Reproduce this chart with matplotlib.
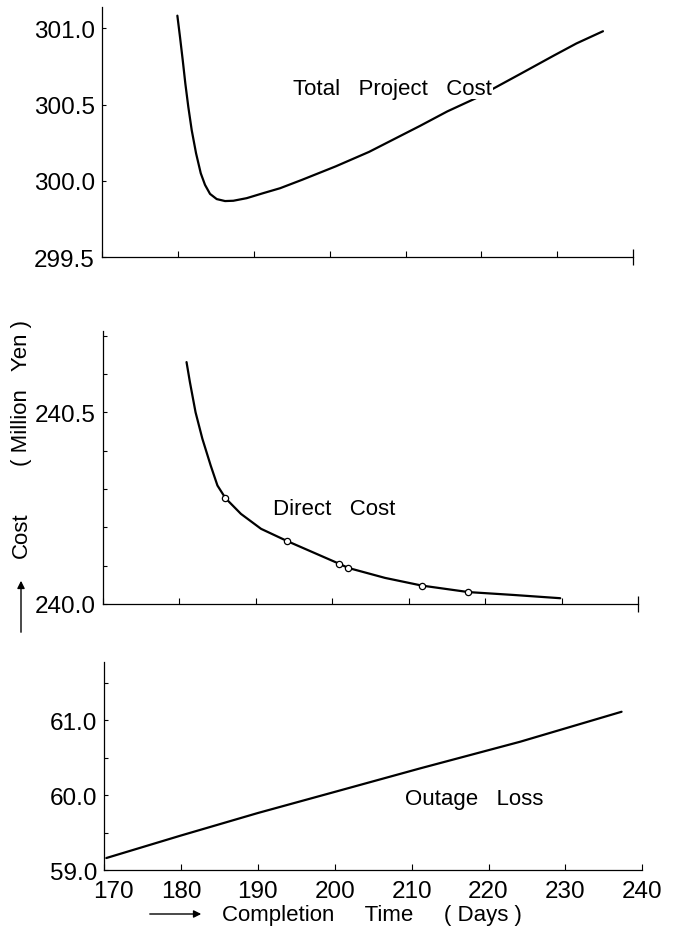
import matplotlib
matplotlib.use('Agg')  # headless
import matplotlib.pyplot as plt
import matplotlib.transforms as mtransforms
from matplotlib.ticker import FixedLocator, MultipleLocator

# --- data ---
x_ticks = [170, 180, 190, 200, 210, 220, 230, 240]

# total project cost (million yen)
total_days = [179.96, 180.31, 180.67, 181.01, 181.40, 181.85, 182.42, 183.04, 183.60,
              184.26, 185.14, 186.24, 187.33, 189.09, 191.28, 193.48, 196.37, 200.8,
              205.2, 211.9, 215.5, 219.2, 221.4, 225.1, 229.5, 232.5, 236.0]
total_cost = [301.082, 300.941, 300.789, 300.637, 300.485, 300.332, 300.181, 300.050,
              299.974, 299.915, 299.881, 299.868, 299.870, 299.887, 299.920, 299.952,
              300.007, 300.095, 300.19, 300.36, 300.455, 300.54, 300.60, 300.70,
              300.82, 300.90, 300.98]
total_yticks = [299.5, 300.0, 300.5, 301.0]

# direct cost
direct_days = [180.96, 181.4, 182.14, 183.03, 184.12, 185.0, 186.05, 188.07, 190.7,
               194.12, 195.96, 200.9, 202.1, 206.9, 211.7, 217.8, 223.7, 229.8]
direct_cost = [240.631, 240.579, 240.50, 240.431, 240.361, 240.309, 240.276, 240.235,
               240.196, 240.164, 240.148, 240.105, 240.094, 240.068, 240.048, 240.031,
               240.0235, 240.015]
# computed solutions (open circles)
point_days = [186.05, 194.12, 200.9, 202.1, 211.7, 217.8]
point_cost = [240.276, 240.164, 240.105, 240.094, 240.048, 240.031]
direct_yticks = [240.0, 240.5]

# outage loss
outage_days = [170.3, 180.0, 190.0, 200.3, 211.1, 224.1, 237.3]
outage_loss = [59.16, 59.46, 59.76, 60.05, 60.355, 60.71, 61.11]
outage_yticks = [59.0, 60.0, 61.0]

plt.rcParams['font.family'] = ['Liberation Sans', 'DejaVu Sans']
TICK_FS = 17.5
TEXT_FS = 16

fig = plt.figure(figsize=(6.75, 9.29), dpi=100)
ax_top = fig.add_axes([0.1507, 0.7220, 0.7876, 0.2691])
ax_mid = fig.add_axes([0.1521, 0.3488, 0.7935, 0.2942])
ax_bot = fig.add_axes([0.1541, 0.0624, 0.7975, 0.2239])


def style(ax, yticks, ylim, minor_step=None, end_mark=True):
    for s in ('top', 'right'):
        ax.spines[s].set_visible(False)
    for s in ('left', 'bottom'):
        ax.spines[s].set_linewidth(0.9)
    ax.set_xlim(170, 240)
    ax.set_ylim(*ylim)
    ax.set_yticks(yticks)
    ax.set_yticklabels([f'{v:.1f}' for v in yticks])
    if minor_step:
        ax.yaxis.set_minor_locator(MultipleLocator(minor_step))
    ax.tick_params(axis='both', which='both', direction='in', width=0.8,
                   labelsize=TICK_FS)
    ax.tick_params(axis='y', which='both', length=3, pad=5)
    if end_mark:
        ax.set_xticks(x_ticks[:-1])
        ax.xaxis.set_minor_locator(FixedLocator(x_ticks[-1:]))
        ax.tick_params(axis='x', which='major', length=4)
        ax.tick_params(axis='x', which='minor', direction='inout', length=12, width=0.9)
        ax.tick_params(axis='x', labelbottom=False)
    else:
        ax.set_xticks(x_ticks)
        ax.tick_params(axis='x', length=4, pad=7)


style(ax_top, total_yticks, (299.5, 301.137))
style(ax_mid, direct_yticks, (240.0, 240.713), minor_step=0.1)
style(ax_bot, outage_yticks, (59.0, 61.773), minor_step=0.5, end_mark=False)

# first x label sits to the right of the corner
lbl = ax_bot.get_xticklabels()[0]
lbl.set_transform(lbl.get_transform() + mtransforms.ScaledTranslation(0.09, 0, fig.dpi_scale_trans))

# curves
line_kw = dict(color='black', lw=1.6, solid_joinstyle='round', solid_capstyle='round', zorder=2)
ax_top.plot(total_days, total_cost, **line_kw)
ax_mid.plot(direct_days, direct_cost, **line_kw)
ax_mid.plot(point_days, point_cost, 'o', ms=4.5, mfc='white', mec='black', mew=0.9, zorder=3)
ax_bot.plot(outage_days, outage_loss, **line_kw)

# curve labels
ax_top.text(195.2, 300.572, 'Total   Project   Cost', fontsize=TEXT_FS, ha='left',
            va='baseline', zorder=4,
            bbox=dict(facecolor='white', edgecolor='none', pad=0.5))
ax_mid.text(192.26, 240.235, 'Direct   Cost', fontsize=TEXT_FS, ha='left', va='baseline')
ax_bot.text(209.2, 59.88, 'Outage   Loss', fontsize=TEXT_FS, ha='left', va='baseline')

W, H = 675.0, 929.0

# x axis title with arrow
fig.text(222 / W, 1 - 921 / H, 'Completion     Time     ( Days )', fontsize=TEXT_FS,
         ha='left', va='baseline')
ax_bot.annotate('', xy=(204 / W, 1 - 915 / H), xytext=(147 / W, 1 - 915 / H),
                xycoords='figure fraction', textcoords='figure fraction',
                annotation_clip=False,
                arrowprops=dict(arrowstyle='-|>', lw=1.0, color='black', mutation_scale=11))

# y axis title with arrow
fig.text(21.5 / W, 1 - 535 / H, 'Cost', rotation=90, fontsize=TEXT_FS,
         ha='center', va='center')
fig.text(21.5 / W, 1 - 393.5 / H, '( Million   Yen )', rotation=90, fontsize=TEXT_FS,
         ha='center', va='center')
ax_bot.annotate('', xy=(21 / W, 1 - 579 / H), xytext=(21 / W, 1 - 636 / H),
                xycoords='figure fraction', textcoords='figure fraction',
                annotation_clip=False,
                arrowprops=dict(arrowstyle='-|>', lw=1.0, color='black', mutation_scale=11))

fig.savefig('out.png', dpi=100, facecolor='white')
plt.close(fig)
